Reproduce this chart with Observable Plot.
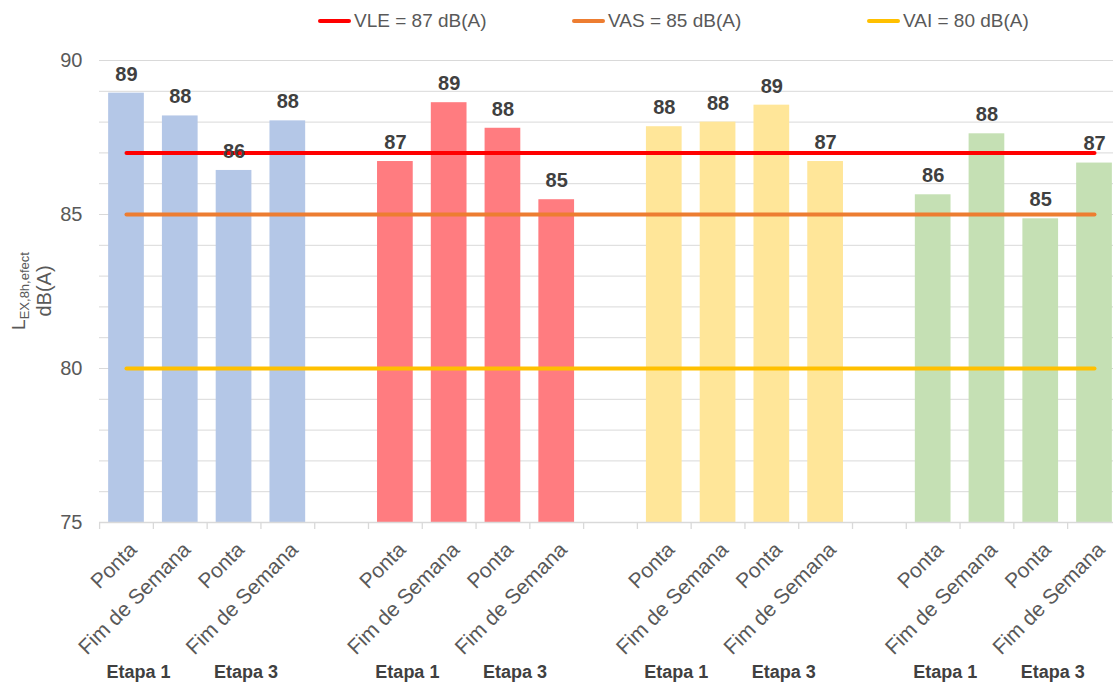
<!DOCTYPE html>
<html><head><meta charset="utf-8">
<script src="https://cdn.jsdelivr.net/npm/d3@7"></script>
<script src="https://cdn.jsdelivr.net/npm/@observablehq/plot@0.6"></script>
<style>
body{margin:0;background:#fff;font-family:"Liberation Sans",Arial,sans-serif;}
#wrap{position:relative;width:1113px;height:682px;overflow:hidden;background:#fff;}
.leg{position:absolute;top:9px;display:flex;align-items:center;font-size:19px;color:#595959;white-space:nowrap;line-height:24px;}
.sw{width:33px;height:4px;border-radius:2px;margin-right:3px;}
</style></head><body><div id="wrap"><div id="chart"></div></div>
<script>
// ---- data ----
const groups = ["Local 1", "Local 2", "Local 3", "Local 4"];
const etapas = ["Etapa 1", "Etapa 3"];
const periods = ["Ponta", "Fim de Semana"];
const valuesLocal1 = [88.94, 88.20, 86.43, 88.04];
const valuesLocal2 = [86.72, 88.63, 87.80, 85.48];
const valuesLocal3 = [87.85, 88.00, 88.55, 86.72];
const valuesLocal4 = [85.64, 87.62, 84.86, 86.67];
const groupColors = ["#B4C7E7", "#FF7C80", "#FFE699", "#C5E0B4"];
const limitNames = ["VLE = 87 dB(A)", "VAS = 85 dB(A)", "VAI = 80 dB(A)"];
const limitValues = [87, 85, 80];
const limitColors = ["#FF0000", "#ED7D31", "#FFC000"];
const yTicks = [75, 80, 85, 90];

// ---- build table ----
const allValues = [valuesLocal1, valuesLocal2, valuesLocal3, valuesLocal4];
const bars = [];
const slots = [];
groups.forEach((g, gi) => {
  etapas.forEach((e, ei) => {
    periods.forEach((p, pi) => {
      const slot = `${g}|${e}|${p}`;
      slots.push(slot);
      bars.push({slot, group: g, etapa: e, period: p, value: allValues[gi][ei * 2 + pi]});
    });
  });
  if (gi < groups.length - 1) slots.push(`gap${gi}`);
});
const etapaLabels = bars.filter(d => d.period === periods[0]);
const firstSlot = slots[0], lastSlot = slots[slots.length - 1];

const xRange = [99.1, 1120.9];
const step = (xRange[1] - xRange[0]) / slots.length;
const font = "'Liberation Sans', Arial, sans-serif";

const chart = Plot.plot({
  width: 1113, height: 682,
  marginLeft: 99, marginRight: 0, marginTop: 60, marginBottom: 160,
  style: {fontFamily: font, background: "white"},
  x: {type: "band", domain: slots, range: xRange, paddingInner: 0.336, paddingOuter: 0.168, align: 0.5, round: false, axis: null},
  y: {domain: [75, 90], axis: null},
  color: {domain: groups, range: groupColors},
  marks: [
    Plot.ruleY(d3.range(76, 91), {stroke: "#D9D9D9", strokeWidth: 1}),
    Plot.axisY({ticks: yTicks, tickSize: 0, tickPadding: 17, fontSize: 20, fill: "#595959", label: null}),
    Plot.barY(bars, {x: "slot", y1: 75, y2: "value", fill: "group"}),
    Plot.ruleY([75], {stroke: "#D9D9D9", strokeWidth: 1.5}),
    Plot.axisX({ticks: slots, tickSize: 7, tickFormat: () => "", dx: -step / 2, stroke: "#D9D9D9", strokeWidth: 1.3, label: null}),
    ...limitValues.map((v, i) => Plot.line([{slot: firstSlot, value: v}, {slot: lastSlot, value: v}],
      {x: "slot", y: "value", stroke: limitColors[i], strokeWidth: 4, strokeLinecap: "round"})),
    Plot.text(bars, {x: "slot", y: "value", text: d => String(Math.round(d.value)), dy: -19, fontSize: 20, fontWeight: "bold", fill: "#404040"}),
    Plot.text(bars, {x: "slot", y: () => 75, text: "period", rotate: -45, textAnchor: "end", lineAnchor: "top", dy: 18, dx: 1, fontSize: 21, fill: "#595959"}),
    Plot.text(etapaLabels, {x: "slot", y: () => 75, text: "etapa", dy: 150, dx: 12, fontSize: 18, fontWeight: "bold", fill: "#404040"})
  ]
});
document.getElementById("chart").appendChild(chart);

// y-axis title with subscript
const svg = d3.select(chart);
const gt = svg.append("g").attr("fill", "#595959").attr("font-family", font);
const t1 = gt.append("text").attr("transform", "translate(25,291) rotate(-90)").attr("text-anchor", "middle").attr("font-size", 19);
t1.append("tspan").text("L");
t1.append("tspan").attr("font-size", 13).attr("dy", 4).text("EX,8h,efect");
gt.append("text").attr("transform", "translate(51,291) rotate(-90)").attr("text-anchor", "middle").attr("font-size", 20).text("dB(A)");

// legend
const legendLeft = [318, 572, 867];
const wrap = document.getElementById("wrap");
limitNames.forEach((name, i) => {
  const item = document.createElement("div");
  item.className = "leg";
  item.style.left = legendLeft[i] + "px";
  const sw = document.createElement("span");
  sw.className = "sw";
  sw.style.background = limitColors[i];
  const tx = document.createElement("span");
  tx.textContent = name;
  item.appendChild(sw); item.appendChild(tx);
  wrap.appendChild(item);
});
</script></body></html>
